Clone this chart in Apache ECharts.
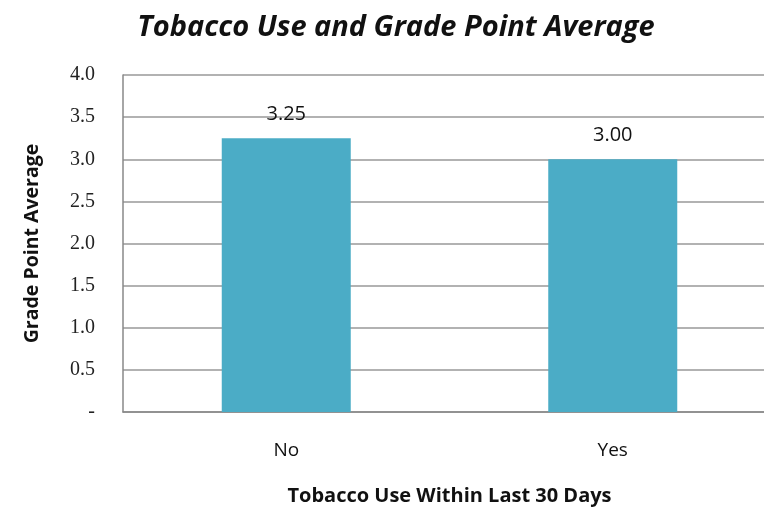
<!DOCTYPE html>
<html>
<head>
<meta charset="utf-8">
<script src="https://cdn.jsdelivr.net/npm/echarts@6/dist/echarts.min.js"></script>
<style>
  html, body { margin: 0; padding: 0; background: #fff; }
  #chart { width: 764px; height: 514px; }
</style>
</head>
<body>
<div id="chart"></div>
<script>
// chart data
const categories = ['No', 'Yes'];
const gpaValues = [3.25, 3.00];
const yTicks = [0, 0.5, 1.0, 1.5, 2.0, 2.5, 3.0, 3.5, 4.0];

const chart = echarts.init(document.getElementById('chart'));

const option = {
  animation: false,
  title: {
    text: 'Tobacco Use and Grade Point Average',
    left: 391,
    top: 8,
    textAlign: 'center',
    textStyle: {
      fontFamily: 'Open Sans',
      fontStyle: 'italic',
      fontWeight: 'bold',
      fontSize: 29,
      color: '#111'
    }
  },
  grid: {
    left: 123,
    top: 75,
    width: 653,
    height: 337,
    outerBoundsMode: 'none'
  },
  xAxis: {
    type: 'category',
    data: categories,
    name: 'Tobacco Use Within Last 30 Days',
    nameLocation: 'middle',
    nameGap: 74,
    nameTextStyle: {
      fontFamily: 'Open Sans',
      fontWeight: 'bold',
      fontSize: 20,
      color: '#111'
    },
    axisLine: { lineStyle: { color: '#888', width: 1.5 } },
    axisTick: { show: false },
    axisLabel: {
      margin: 29,
      fontFamily: 'Open Sans',
      fontSize: 19,
      color: '#111'
    }
  },
  yAxis: {
    type: 'value',
    min: yTicks[0],
    max: yTicks[yTicks.length - 1],
    interval: 0.5,
    name: 'Grade Point Average',
    nameLocation: 'middle',
    nameGap: 81,
    nameTextStyle: {
      fontFamily: 'Open Sans',
      fontWeight: 'bold',
      fontSize: 19.5,
      color: '#111'
    },
    axisLine: { show: true, lineStyle: { color: '#888', width: 1.5 } },
    axisTick: { show: false },
    splitLine: { lineStyle: { color: '#999', width: 1.5 } },
    axisLabel: {
      margin: 28,
      fontFamily: 'Liberation Serif',
      fontSize: 20,
      color: '#222',
      formatter: v => (v === 0 ? '-' : v.toFixed(1))
    }
  },
  series: [{
    type: 'bar',
    data: gpaValues,
    barWidth: 129,
    itemStyle: { color: '#4BACC6' },
    label: {
      show: true,
      position: 'top',
      distance: 14,
      fontFamily: 'Open Sans',
      fontSize: 20,
      color: '#111',
      formatter: p => p.value.toFixed(2)
    }
  }]
};

chart.setOption(option);
</script>
</body>
</html>
